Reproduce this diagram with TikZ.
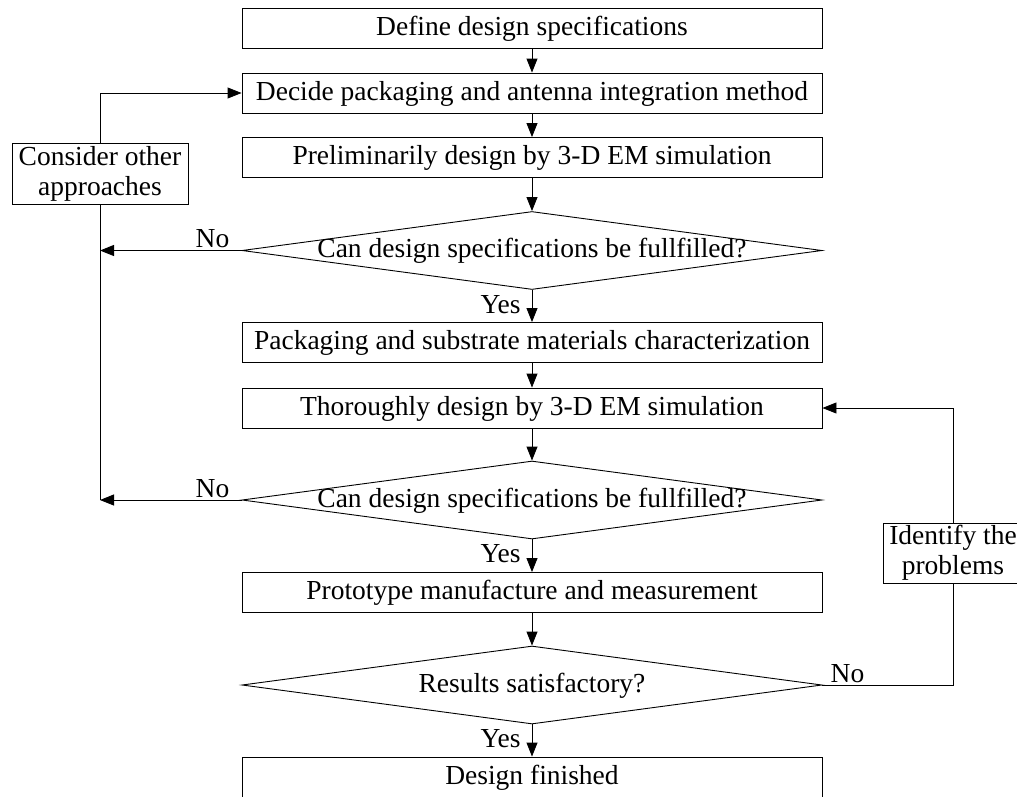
\documentclass[tikz,border=0pt]{standalone}
\usepackage{fontspec}
\setmainfont{Liberation Serif}
\usetikzlibrary{arrows.meta,shapes.geometric}
\begin{document}
\begin{tikzpicture}[x=1pt,y=-1pt,
  font=\fontsize{27.5}{30}\selectfont,
  every node/.style={inner sep=0pt},
  tx/.style={text height=19pt, text depth=5pt},
  box/.style={draw, tx, line width=0.9pt, minimum width=580pt, minimum height=40pt},
  dia/.style={draw, tx, diamond, aspect=1, line width=0.9pt, minimum width=580pt, minimum height=78pt},
  side/.style={draw, line width=0.9pt, align=center},
  lab/.style={tx},
  arr/.style={line width=0.9pt, -{Triangle[length=14pt,width=11pt]}},
  ln/.style={line width=0.9pt}]
\clip (0,0) rectangle (1017,796);
\node[box] (b1) at (532,28) {Define design specifications};
\node[box] (b2) at (532,93) {Decide packaging and antenna integration method};
\node[box] (b3) at (532,157.5) {Preliminarily design by 3-D EM simulation};
\node[dia] (d1) at (532,250.5) {\makebox[0pt]{Can design specifications be fullfilled?}};
\node[box] (b4) at (532,342.5) {Packaging and substrate materials characterization};
\node[box] (b5) at (532,408) {Thoroughly design by 3-D EM simulation};
\node[dia] (d2) at (532,500) {\makebox[0pt]{Can design specifications be fullfilled?}};
\node[box] (b6) at (532,592.5) {Prototype manufacture and measurement};
\node[dia] (d3) at (532,685) {\makebox[0pt]{Results satisfactory?}};
\node[box] (b7) at (532,777) {Design finished};
\node[side, minimum width=176pt, minimum height=61pt] (c) at (100,173.5) {Consider other\\approaches};
\node[side, minimum width=140pt, minimum height=60pt] (i) at (953,553) {Identify the\\problems};

\draw[arr] (b1) -- (b2);
\draw[arr] (b2) -- (b3);
\draw[arr] (b3) -- (d1);
\draw[arr] (d1) -- node[lab, left=11pt] {Yes} (b4);
\draw[arr] (b4) -- (b5);
\draw[arr] (b5) -- (d2);
\draw[arr] (d2) -- node[lab, left=11pt] {Yes} (b6);
\draw[arr] (b6) -- (d3);
\draw[arr] (d3) -- node[lab, left=11pt] {Yes} (b7);

\coordinate (n1) at (c.south |- d1.west);
\coordinate (n2) at (c.south |- d2.west);
\draw[arr] (d1.west) -- (n1);
\draw[arr] (d2.west) -- (n2);
\draw[ln] (c.south) -- (n2);
\draw[arr] (c.north) |- (b2.west);
\node[anchor=base east] (no1) at ([xshift=-12pt,yshift=3pt]d1.west) {No};
\node[anchor=base east] (no2) at ([xshift=-12pt,yshift=3pt]d2.west) {No};

\coordinate (n3) at (i.south |- d3.east);
\draw[ln] (d3.east) -- (n3) -- (i.south);
\draw[arr] (i.north) |- (b5.east);
\node[anchor=base west] (no3) at ([xshift=8pt,yshift=3pt]d3.east) {No};
\end{tikzpicture}
\end{document}
